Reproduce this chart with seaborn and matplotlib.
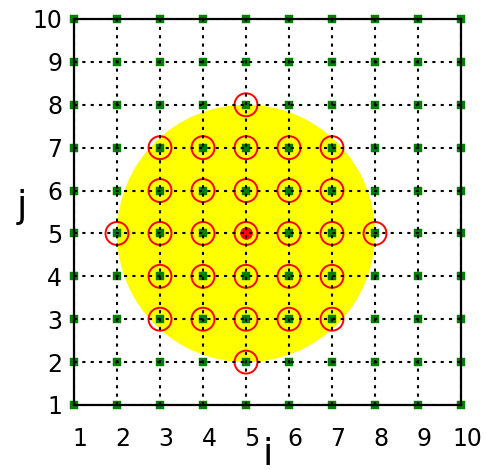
import matplotlib
matplotlib.use("Agg")
import matplotlib.pyplot as plt
from matplotlib.patches import Circle
from matplotlib.transforms import ScaledTranslation
import numpy as np
import pandas as pd
import seaborn as sns

# Lattice coordinates along each axis
i_ticks = [1, 2, 3, 4, 5, 6, 7, 8, 9, 10]
j_ticks = [1, 2, 3, 4, 5, 6, 7, 8, 9, 10]

# Centre of the neighbourhood and its radius
center_i = [5]
center_j = [5]
radius = 3

# Lattice sites lying inside the neighbourhood
near_i = [5,
          3, 4, 5, 6, 7,
          3, 4, 5, 6, 7,
          2, 3, 4, 5, 6, 7, 8,
          3, 4, 5, 6, 7,
          3, 4, 5, 6, 7,
          5]
near_j = [8,
          7, 7, 7, 7, 7,
          6, 6, 6, 6, 6,
          5, 5, 5, 5, 5, 5, 5,
          4, 4, 4, 4, 4,
          3, 3, 3, 3, 3,
          2]

sns.set_style("white")
plt.rcParams["font.family"] = ["DejaVu Sans"]
plt.rcParams["text.color"] = "black"
plt.rcParams["axes.labelcolor"] = "black"
plt.rcParams["xtick.color"] = "black"
plt.rcParams["ytick.color"] = "black"

fig = plt.figure(figsize=(4.87, 4.70), dpi=100)
ax = fig.add_axes([74 / 487, 1 - 405 / 470, 387 / 487, 386 / 470])

# Neighbourhood disc
ax.add_patch(Circle((center_i[0], center_j[0]), radius, facecolor="#ffff00",
                    edgecolor="none", zorder=0.5))

# All lattice sites
gi, gj = np.meshgrid(i_ticks, j_ticks)
lattice = pd.DataFrame({"i": gi.ravel(), "j": gj.ravel()})
sns.scatterplot(data=lattice, x="i", y="j", marker="s", s=36, color="#008000",
                edgecolor="#008000", linewidth=0.3, clip_on=False, ax=ax, zorder=1)

# Sites inside the neighbourhood
near = pd.DataFrame({"i": near_i, "j": near_j})
sns.scatterplot(data=near, x="i", y="j", marker="o", s=16.5 ** 2,
                facecolor="none", edgecolor="#ff0000", linewidth=1.4,
                clip_on=False, ax=ax, zorder=1.2)

# Centre site
centre = pd.DataFrame({"i": center_i, "j": center_j})
sns.scatterplot(data=centre, x="i", y="j", marker="o", s=8.5 ** 2,
                color="#ff0000", edgecolor="#ff0000", linewidth=0.5,
                ax=ax, zorder=1.3)

ax.set_xlim(1, 10)
ax.set_ylim(1, 10)
ax.set_aspect("auto")
ax.set_xticks(i_ticks)
ax.set_yticks(j_ticks)
ax.set_xticklabels([str(v) for v in i_ticks])
ax.set_yticklabels([str(v) for v in j_ticks])

ax.set_axisbelow(False)
ax.grid(True, color="black", linestyle=(0, (1.5, 2.5)), linewidth=1.5)

for sp in ax.spines.values():
    sp.set_color("black")
    sp.set_linewidth(1.6)
    sp.set_zorder(3)

ax.tick_params(axis="x", length=0, pad=16, labelsize=17, labelcolor="black")
ax.tick_params(axis="y", length=0, pad=8.5, labelsize=17, labelcolor="black")
shift = ScaledTranslation(6 / 100, 0, fig.dpi_scale_trans)
for lab in ax.get_xticklabels():
    lab.set_transform(lab.get_transform() + shift)

ax.set_xlabel("i", fontsize=27, color="black")
ax.set_ylabel("j", fontsize=27, rotation=0, va="center", ha="center", color="black")
ax.xaxis.set_label_coords(0.5, -0.083)
ax.xaxis.label.set_va("top")
ax.yaxis.set_label_coords(-0.134, 0.513)

fig.savefig("out.png", dpi=100)
